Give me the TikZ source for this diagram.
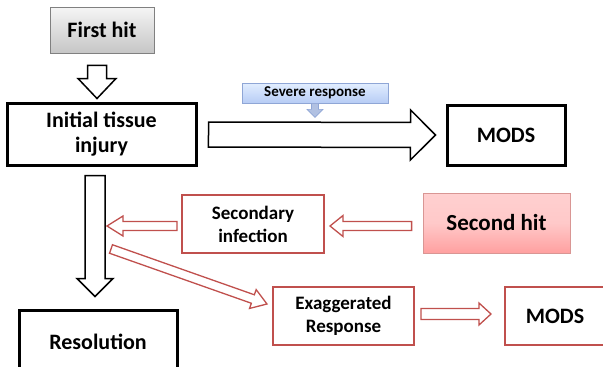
\documentclass[tikz,border=0pt]{standalone}
\usepackage{fontspec}
\setmainfont{Carlito}
\usetikzlibrary{calc,positioning}

\definecolor{redline}{HTML}{C0504D}
\definecolor{pinktop}{HTML}{FFD0D0}
\definecolor{pinkbot}{HTML}{FFA0A0}
\definecolor{bluetop}{HTML}{E2EEFF}
\definecolor{bluebot}{HTML}{B7CCF5}
\definecolor{blueline}{HTML}{8FA6D6}

% hollow block arrow: [style]{from}{to}{shaft half width}{head half width}{head length}
\newcommand{\blockarrow}[6][]{%
  \draw[#1] let \p2=(#2), \p3=(#3), \p1=($(\p3)!#6!(\p2)$) in
    ($(\p2)!#4!90:(\p3)$) -- ($(\p1)!#4!-90:(\p2)$) -- ($(\p1)!#5!-90:(\p2)$) -- (\p3)
    -- ($(\p1)!#5!90:(\p2)$) -- ($(\p1)!#4!90:(\p2)$) -- ($(\p2)!#4!-90:(\p3)$) -- cycle;}

\tikzset{
  blackbox/.style={draw, line width=3pt, fill=white, align=center, font=\fontsize{22}{25}\selectfont\bfseries},
  redbox/.style={draw=redline, line width=2pt, fill=white, align=center, font=\fontsize{19}{23}\selectfont\bfseries},
  blackarrow/.style={draw=black, line width=1.5pt, fill=white, line join=miter},
  redarrow/.style={draw=redline, line width=1.3pt, fill=white, line join=miter},
}

\begin{document}
\begin{tikzpicture}[x=1pt, y=-1pt]
    \useasboundingbox (0,0) rectangle (603,367);

    \node[draw=gray, line width=0.8pt, top color=gray!8, bottom color=gray!45, minimum width=104pt, minimum height=46pt, font=\fontsize{22}{25}\selectfont\bfseries] (first) at (102,30) {First hit};

    \node[blackbox, minimum width=189pt, minimum height=62pt] (init) at (101.5,134) {Initial tissue\\injury};

    \node[blackbox, minimum width=118pt, minimum height=60pt] (mods1) at (506,135) {MODS};

    \node[draw=blueline, line width=0.8pt, top color=bluetop, bottom color=bluebot, minimum width=146pt, minimum height=20pt, inner sep=0pt, font=\fontsize{15}{17}\selectfont\bfseries] (severe) at (315,93) {Severe response};

    \node[blackbox, minimum width=158pt, minimum height=64pt] (res) at (98,342) {Resolution};

    \node[redbox, minimum width=142pt, minimum height=58pt] (secinf) at (253,224) {Secondary\\infection};

    \node[draw=redline!60, line width=0.8pt, top color=pinktop, bottom color=pinkbot, middle color=pinktop!85!pinkbot, minimum width=147pt, minimum height=60pt, font=\fontsize{23}{26}\selectfont\bfseries] (second) at (496.5,223) {Second hit};

    \node[redbox, minimum width=141pt, minimum height=58pt] (exag) at (343.5,316) {Exaggerated\\Response};

    \node[redbox, minimum width=100pt, minimum height=58pt, font=\fontsize{22}{25}\selectfont\bfseries] (mods2) at (555,316) {MODS};

    \coordinate (join1) at (107,226);
    \coordinate (join2) at (111,249);

    \blockarrow[blackarrow]{[shift={(-5,12)}]first.south}{[shift={(-4.5,-3)}]init.north}{9.5pt}{19pt}{20pt}
    \blockarrow[blackarrow]{[shift={(11,0.5)}]init.east}{[shift={(-10,0)}]mods1.west}{12.5pt}{25pt}{25pt}
    \blockarrow[draw=blueline, line width=0.6pt, fill=blueline!70]{severe.south}{[shift={(0,14)}]severe.south}{3.5pt}{8pt}{8pt}
    \blockarrow[blackarrow]{[shift={(-6.5,9)}]init.south}{[shift={(-3,-12)}]res.north}{10pt}{18pt}{18pt}
    \blockarrow[redarrow]{[shift={(-11,3)}]second.west}{[shift={(5,2)}]secinf.east}{4.5pt}{10.5pt}{13pt}
    \blockarrow[redarrow]{[shift={(-4,2)}]secinf.west}{join1}{4.5pt}{10pt}{16pt}
    \blockarrow[redarrow]{join2}{[shift={(-5,-12)}]exag.west}{4.5pt}{10pt}{15pt}
    \blockarrow[redarrow]{[shift={(6,-2)}]exag.east}{[shift={(-13,-2)}]mods2.west}{5.5pt}{11pt}{12pt}
\end{tikzpicture}
\end{document}
